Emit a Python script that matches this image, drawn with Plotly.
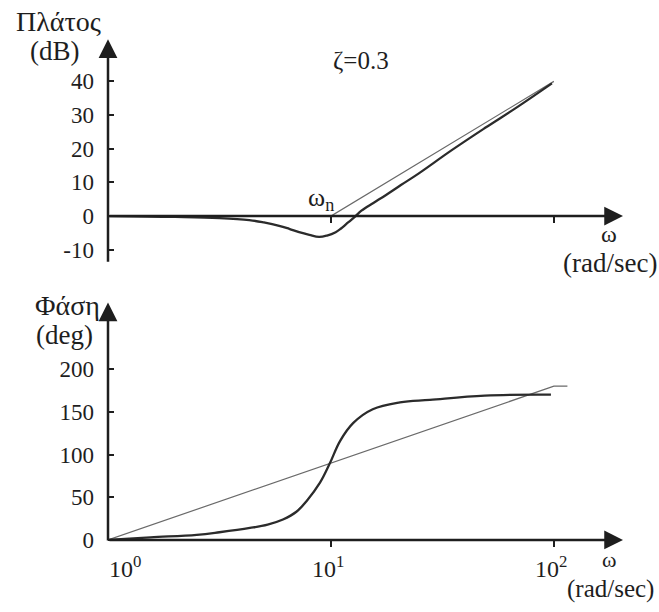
import plotly.graph_objects as go

# Magnitude response (dB) of the second-order factor, zeta = 0.3, wn = 10 rad/sec
mag_w = [1, 2, 3.16, 4.3, 5.0, 5.86, 6.5, 7.2, 8.0, 8.84, 9.6, 10.5, 11.1, 11.7, 12.3, 12.9,
         13.7, 15.5, 17.6, 20.6, 24.7, 34.7, 49.2, 69, 98]
mag_db = [0, -0.25, -0.6, -1.2, -1.9, -2.9, -3.8, -4.8, -5.6, -6.2, -5.8, -4.8, -3.7, -2.4,
          -1.2, 0, 1.6, 3.9, 6.2, 9.2, 12.6, 19.5, 26.2, 32.5, 39.4]

# Straight-line asymptotes of the magnitude
mag_asym_w = [1, 10, 100]
mag_asym_db = [0, 0, 40]

# Phase response (deg)
ph_w = [1, 1.55, 2.5, 3.16, 4.33, 5.2, 6.09, 7.0, 7.8, 8.93, 9.9, 11.0, 12.6, 15.4,
        20.4, 27.8, 49, 97]
ph_deg = [0, 3, 6, 9, 14, 18, 24, 33, 46, 67, 90, 116, 137, 153,
          161, 164, 169, 170]

# Straight-line approximation of the phase
ph_asym_w = [1, 100, 115]
ph_asym_deg = [0, 180, 180]

mag_ticks = [-10, 0, 10, 20, 30, 40]
mag_tick_text = ["-10", "0", "10", "20", "30", "40"]
ph_ticks = [0, 50, 100, 150, 200]
w_ticks = [1, 10, 100]
w_tick_text = ["10<sup>0</sup>", "10<sup>1</sup>", "10<sup>2</sup>"]

W, H = 659, 612
FONT = "Liberation Serif, Times New Roman, DejaVu Serif, serif"
INK = "#1e1e1e"
THICK = "#2b2b2b"
THIN = "#6a6a6a"

X_RANGE = [0, 2.31]
MAG_RANGE = [-14, 52.5]
PH_RANGE = [-2.5, 278]
top_dom = [1 - 268 / H, 1 - 40 / H]
bot_dom = [1 - 552 / H, 1 - 308 / H]


def px(x, y):
    return x / W, 1 - y / H


def zero_pos(dom, rng):
    return dom[0] + (0 - rng[0]) / (rng[1] - rng[0]) * (dom[1] - dom[0])


fig = go.Figure()
fig.add_trace(go.Scatter(x=mag_asym_w, y=mag_asym_db, mode="lines",
                         line=dict(color=THIN, width=1.2), xaxis="x", yaxis="y",
                         showlegend=False))
fig.add_trace(go.Scatter(x=mag_w, y=mag_db, mode="lines",
                         line=dict(color=THICK, width=2.3, shape="spline", smoothing=1.1),
                         xaxis="x", yaxis="y", showlegend=False))
fig.add_trace(go.Scatter(x=ph_asym_w, y=ph_asym_deg, mode="lines",
                         line=dict(color=THIN, width=1.2), xaxis="x2", yaxis="y2",
                         showlegend=False))
fig.add_trace(go.Scatter(x=ph_w, y=ph_deg, mode="lines",
                         line=dict(color=THICK, width=2.3, shape="spline", smoothing=1.1),
                         xaxis="x2", yaxis="y2", showlegend=False))

xcommon = dict(type="log", range=X_RANGE, domain=[108 / W, 623 / W], showgrid=False,
               zeroline=False, showline=False, ticks="outside", ticklen=6, tickwidth=2,
               tickcolor=INK, tickvals=w_ticks[1:], showticklabels=False, anchor="free")
ycommon = dict(showgrid=False, zeroline=False, showline=False, ticks="inside", ticklen=6,
               tickwidth=2, tickcolor=INK, ticklabelstandoff=13,
               tickfont=dict(family=FONT, size=23, color=INK))

fig.update_layout(
    width=W, height=H, margin=dict(l=0, r=0, t=0, b=0),
    paper_bgcolor="white", plot_bgcolor="white",
    font=dict(family=FONT, color=INK),
    xaxis=dict(**xcommon, position=zero_pos(top_dom, MAG_RANGE)),
    yaxis=dict(**ycommon, range=MAG_RANGE, domain=top_dom, tickvals=mag_ticks,
               ticktext=mag_tick_text, anchor="x"),
    xaxis2=dict(**xcommon, position=zero_pos(bot_dom, PH_RANGE)),
    yaxis2=dict(**ycommon, range=PH_RANGE, domain=bot_dom, tickvals=ph_ticks, anchor="x2"),
)

# Axis lines with arrowheads
arrow = dict(showarrow=True, arrowhead=2, arrowsize=1.5, arrowwidth=2.5, arrowcolor=INK,
             text="", standoff=0, startstandoff=0)
fig.add_annotation(**arrow, xref="x", yref="y", axref="x", ayref="y",
                   x=0, y=MAG_RANGE[1], ax=0, ay=MAG_RANGE[0])
fig.add_annotation(**arrow, xref="x", yref="y", axref="x", ayref="y",
                   x=X_RANGE[1], y=0, ax=0, ay=0)
fig.add_annotation(**arrow, xref="x2", yref="y2", axref="x2", ayref="y2",
                   x=0, y=PH_RANGE[1], ax=0, ay=PH_RANGE[0])
fig.add_annotation(**arrow, xref="x2", yref="y2", axref="x2", ayref="y2",
                   x=X_RANGE[1], y=0, ax=0, ay=0)


def label(text, x, y, size=27, xanchor="center"):
    xp, yp = px(x, y)
    fig.add_annotation(text=text, x=xp, y=yp, xref="paper", yref="paper",
                       xanchor=xanchor, yanchor="middle", showarrow=False,
                       font=dict(family=FONT, size=size, color=INK))


label("Πλάτος", 58, 22, size=28)
label("(dB)", 55, 52)
label("ζ=0.3", 361, 62, size=25)
label("ω<sub>n</sub>", 321, 203, size=26)
label("ω", 609, 238, size=24)
label("(rad/sec)", 610, 268)

label("Φάση", 67, 311, size=28)
label("(deg)", 64, 341)
for txt, xc in zip(w_tick_text, [125, 328, 551]):
    label(txt, xc, 577, size=24)
label("ω", 609, 570, size=22)
label("(rad/sec)", 610, 600, size=25)

fig.write_html("out.html")
